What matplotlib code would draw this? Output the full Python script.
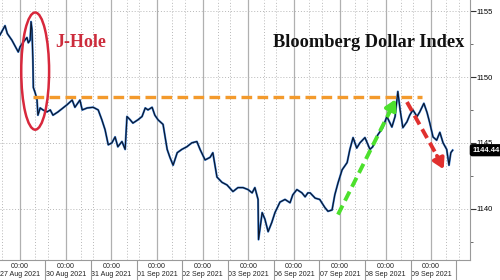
import matplotlib
matplotlib.use("Agg")
import matplotlib.pyplot as plt
from matplotlib.patches import Ellipse

# trading-day offsets (0 = 27 Aug 00:00, weekends removed) and index level
day = [-0.44, -0.33, -0.28, -0.18, -0.04, 0.00, 0.07, 0.15, 0.18, 0.22, 0.24, 0.26,
       0.28, 0.29, 0.33, 0.37, 0.39, 0.44, 0.50, 0.59, 0.66, 0.72, 0.83, 0.94,
       1.03, 1.14, 1.20, 1.31, 1.36, 1.47, 1.60, 1.71, 1.79, 1.86, 1.93, 2.01,
       2.08, 2.14, 2.23, 2.30, 2.34, 2.41, 2.47, 2.58, 2.67, 2.74, 2.80, 2.89,
       2.95, 3.02, 3.13, 3.22, 3.28, 3.35, 3.44, 3.54, 3.65, 3.76, 3.87, 3.94,
       4.05, 4.16, 4.22, 4.31, 4.42, 4.53, 4.66, 4.77, 4.88, 4.99, 5.08, 5.14,
       5.21, 5.22, 5.30, 5.36, 5.43, 5.51, 5.58, 5.69, 5.80, 5.91, 5.97, 6.06,
       6.17, 6.24, 6.30, 6.35, 6.46, 6.56, 6.67, 6.74, 6.83, 6.89, 6.96, 7.05,
       7.16, 7.22, 7.29, 7.37, 7.44, 7.55, 7.66, 7.72, 7.83, 7.94, 8.03, 8.14,
       8.21, 8.27, 8.32, 8.38, 8.47, 8.53, 8.60, 8.69, 8.75, 8.84, 8.91, 8.97,
       9.04, 9.12, 9.19, 9.26, 9.34, 9.39, 9.43, 9.47]
level = [1153.2, 1153.9, 1153.3, 1152.8, 1151.9, 1152.3, 1152.65, 1153.0, 1152.6, 1152.8, 1154.2, 1153.6,
         1151.3, 1149.2, 1148.8, 1148.3, 1147.1, 1147.65, 1147.5, 1147.35, 1147.5, 1147.1, 1147.35, 1147.65,
         1147.9, 1148.25, 1147.7, 1148.25, 1147.5, 1147.65, 1147.7, 1147.5, 1146.75, 1146.0, 1144.85, 1145.0,
         1145.45, 1144.7, 1145.1, 1144.5, 1147.0, 1146.75, 1146.5, 1146.75, 1147.0, 1147.65, 1147.5, 1147.7,
         1147.1, 1146.75, 1146.4, 1144.5, 1143.9, 1143.3, 1144.25, 1144.5, 1144.7, 1145.0, 1145.1, 1144.5,
         1143.7, 1143.9, 1144.25, 1142.4, 1142.0, 1141.8, 1141.3, 1141.6, 1141.6, 1141.45, 1141.2, 1141.6,
         1140.7, 1137.65, 1139.7, 1139.2, 1138.25, 1138.95, 1139.7, 1140.5, 1140.7, 1140.45, 1141.05, 1141.45,
         1141.2, 1140.9, 1141.2, 1141.2, 1140.8, 1140.7, 1140.1, 1139.8, 1139.9, 1141.05, 1141.95, 1142.95,
         1143.5, 1144.5, 1145.4, 1144.6, 1145.0, 1145.4, 1144.5, 1144.7, 1145.6, 1146.15, 1147.0, 1146.2,
         1147.0, 1148.9, 1147.5, 1146.15, 1146.6, 1147.1, 1147.5, 1147.0, 1147.35, 1148.0, 1147.3, 1146.5,
         1145.45, 1145.2, 1145.8, 1145.0, 1144.5, 1143.3, 1144.25, 1144.44]

tick_dates = ["27 Aug 2021", "30 Aug 2021", "31 Aug 2021", "01 Sep 2021", "02 Sep 2021",
              "03 Sep 2021", "06 Sep 2021", "07 Sep 2021", "08 Sep 2021", "09 Sep 2021"]
y_ticks = [1140, 1145, 1150, 1155]
last_value = 1144.44
resistance = 1148.5

fig = plt.figure(figsize=(5, 2.8), dpi=100)
ax = fig.add_axes([0, 20 / 280, 470 / 500, 260 / 280])
ax.set_xlim(-0.44, 9.85)
ax.set_ylim(1136.1, 1155.85)

# grid: solid at midnight, dotted inside each day
for k in range(len(tick_dates)):
    ax.axvline(k, color="#b0b0b0", lw=0.9, zorder=0)
    for f in (0.33, 0.6):
        ax.axvline(k + f, color="#b8b8b8", lw=0.7, ls=(0, (1, 2)), zorder=0)
ax.axvline(-0.4, color="#b8b8b8", lw=0.7, ls=(0, (1, 2)), zorder=0)
for v in y_ticks:
    ax.axhline(v, color="#b8b8b8", lw=0.7, ls=(0, (1, 2)), zorder=0)

ax.plot(day, level, color="#3a7ed4", lw=1.5, zorder=3)
ax.plot(day, level, color="#0a1428", lw=0.8, zorder=4)

# annotations
ax.plot([0.28, 8.80], [resistance, resistance], color="#f39a2c", lw=2.4,
        ls=(0, (3.2, 1.6)), zorder=5)
ax.plot([6.96, 8.12], [1139.55, 1147.55], color="#4ce02c", lw=2.8,
        ls=(0, (2.6, 1.4)), zorder=6)
ax.annotate("", xy=(8.25, 1148.5), xytext=(8.05, 1147.1),
            arrowprops=dict(arrowstyle="-|>,head_length=0.6,head_width=0.35",
                            color="#4ce02c", lw=2.8), zorder=6)
ax.plot([8.47, 9.18], [1148.1, 1143.7], color="#e0302e", lw=2.8,
        ls=(0, (2.6, 1.4)), zorder=6)
ax.annotate("", xy=(9.30, 1142.8), xytext=(9.10, 1144.2),
            arrowprops=dict(arrowstyle="-|>,head_length=0.6,head_width=0.35",
                            color="#e0302e", lw=2.8), zorder=6)
ax.add_patch(Ellipse((0.33, 1150.45), 0.61, 8.9, fill=False, ec="#d8283c",
                     lw=1.8, zorder=6))

ax.text(0.76, 1152.6, "J-Hole", color="#cc2c3c", fontsize=13, fontweight="bold",
        family="Liberation Serif", va="center", ha="left")
ax.text(5.53, 1152.6, "Bloomberg Dollar Index", color="#111111", fontsize=13.2,
        fontweight="bold", family="Liberation Serif", va="center", ha="left")

# axes styling
for s in ("top", "left"):
    ax.spines[s].set_visible(False)
ax.spines["right"].set_color("#9a9a9a")
ax.spines["bottom"].set_color("#9a9a9a")
ax.yaxis.tick_right()
ax.set_yticks(y_ticks)
ax.set_yticks([1137.5, 1142.5, 1147.5, 1152.5], minor=True)
ax.tick_params(axis="y", which="major", length=4, width=0.8, color="#333333",
               labelsize=5.5, pad=1)
ax.tick_params(axis="y", which="minor", length=2.5, width=0.6, color="#555555")
for lab in ax.get_yticklabels():
    lab.set_family("Liberation Sans")

ax.set_xticks(range(len(tick_dates)))
ax.set_xticklabels(["00:00\n" + d for d in tick_dates], family="Liberation Sans",
                   fontsize=5.1, linespacing=1.3, color="#222222")
ax.set_xticks([k + 0.55 for k in range(len(tick_dates))], minor=True)
ax.tick_params(axis="x", which="major", length=0, pad=2)
ax.tick_params(axis="x", which="minor", length=20, width=0.8, color="#9a9a9a")
ax.get_xticklabels()[0].set_x(0.04)

ax.text(1.005, (last_value - 1136.1) / (1155.85 - 1136.1), f"{last_value:.2f}",
        transform=ax.transAxes, color="white", fontsize=5.5, family="Liberation Sans",
        fontweight="bold", va="center", ha="left",
        bbox=dict(boxstyle="round,pad=0.25", fc="black", ec="black"))

fig.savefig("out.png", dpi=100)
